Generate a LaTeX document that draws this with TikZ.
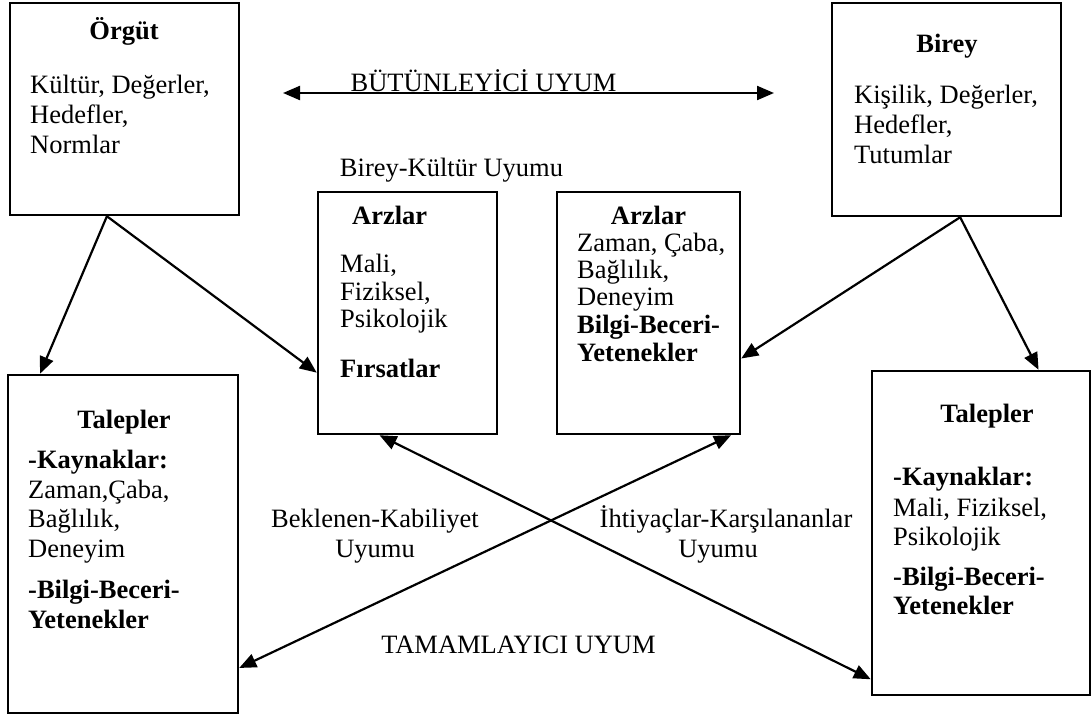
\documentclass[tikz,border=0pt]{standalone}
\usepackage{fontspec}
\setmainfont{Liberation Serif}
\usetikzlibrary{arrows.meta,calc}
\newcommand\myfs{\fontsize{26.5}{30}\selectfont}
\begin{document}
\begin{tikzpicture}[x=1pt,y=-1pt,
 box/.style={draw, line width=2.5pt, inner sep=0pt},
 txt/.style={font=\myfs, inner sep=0pt, anchor=base west},
 ctr/.style={font=\myfs, inner sep=0pt, anchor=base},
 hd/.style={font=\myfs\bfseries, inner sep=0pt, anchor=base},
 bl/.style={font=\myfs\bfseries, inner sep=0pt, anchor=base west},
 con/.style={line width=2.2pt, -{Triangle[length=17pt,width=14pt]}},
 dcon/.style={line width=2.2pt, {Triangle[length=17pt,width=14pt]}-{Triangle[length=17pt,width=14pt]}}]
\useasboundingbox (0,0) rectangle (1092,715);
\fill[white] (0,0) rectangle (1092,715);
% boxes
\node[box, minimum width=229pt, minimum height=212pt] (org) at (124.5,109) {};
\node[box, minimum width=229pt, minimum height=213pt] (bir) at (946.5,109.5) {};
\node[box, minimum width=179pt, minimum height=242pt] (lmid) at (407.5,313) {};
\node[box, minimum width=183pt, minimum height=242pt] (rmid) at (648.5,313) {};
\node[box, minimum width=230pt, minimum height=338pt] (ltal) at (123,544) {};
\node[box, minimum width=218pt, minimum height=324pt] (rtal) at (981,533) {};
% Orgut text
\node[hd] (o0) at (124,39) {Örgüt};
\node[txt] (o1) at (30,93) {Kültür, Değerler,};
\node[txt] (o2) at (30,123) {Hedefler,};
\node[txt] (o3) at (30,153) {Normlar};
% Birey text
\node[hd] (b0) at (947,52) {Birey};
\node[txt] (b1) at (854,103) {Kişilik, Değerler,};
\node[txt] (b2) at (854,133) {Hedefler,};
\node[txt] (b3) at (854,163) {Tutumlar};
% top labels
\node[ctr] (bku) at (451.5,176) {Birey-Kültür Uyumu};
\node[ctr] (but) at (483.5,91) {BÜTÜNLEYİCİ UYUM};
% left middle
\node[bl] (lm0) at (352,224) {Arzlar};
\node[txt] (lm1) at (340,272) {Mali,};
\node[txt] (lm2) at (340,300) {Fiziksel,};
\node[txt] (lm3) at (340,327) {Psikolojik};
\node[bl] (lm4) at (340,377) {Fırsatlar};
% right middle
\node[hd] (rm0) at (648.5,224) {Arzlar};
\node[txt] (rm1) at (577,251) {Zaman, Çaba,};
\node[txt] (rm2) at (577,278) {Bağlılık,};
\node[txt] (rm3) at (577,305) {Deneyim};
\node[bl] (rm4) at (577,333) {Bilgi-Beceri-};
\node[bl] (rm5) at (577,361) {Yetenekler};
% left Talepler
\node[hd] (lt0) at (124,428) {Talepler};
\node[bl] (lt1) at (28,468) {-Kaynaklar:};
\node[txt] (lt2) at (28,498) {Zaman,Çaba,};
\node[txt] (lt3) at (28,527) {Bağlılık,};
\node[txt] (lt4) at (28,557) {Deneyim};
\node[bl] (lt5) at (28,598) {-Bilgi-Beceri-};
\node[bl] (lt6) at (28,628) {Yetenekler};
% right Talepler
\node[hd] (rt0) at (987,422) {Talepler};
\node[bl] (rt1) at (893,485) {-Kaynaklar:};
\node[txt] (rt2) at (893,516) {Mali, Fiziksel,};
\node[txt] (rt3) at (893,545) {Psikolojik};
\node[bl] (rt4) at (893,585) {-Bilgi-Beceri-};
\node[bl] (rt5) at (893,614) {Yetenekler};
% lower labels
\node[ctr] (bk1) at (375,527) {Beklenen-Kabiliyet};
\node[ctr] (bk2) at (375,557) {Uyumu};
\node[ctr] (ik1) at (726,527) {İhtiyaçlar-Karşılananlar};
\node[ctr] (ik2) at (718,557) {Uyumu};
\node[ctr] (tam) at (518.5,653) {TAMAMLAYICI UYUM};
% connectors
\coordinate (bl) at (283,93);
\coordinate (br) at (774,93);
\draw[dcon] (bl) -- (br);
\draw[con] ($(org.south west)!0.424!(org.south east)$) -- ($(ltal.north west)!0.143!(ltal.north east)$);
\draw[con] ($(org.south west)!0.424!(org.south east)$) -- ($(lmid.north west)!0.744!(lmid.south west)$);
\draw[con] ($(bir.south west)!0.559!(bir.south east)$) -- ($(rmid.north east)!0.686!(rmid.south east)$);
\draw[con] ($(bir.south west)!0.559!(bir.south east)$) -- ($(rtal.north west)!0.761!(rtal.north east)$);
\draw[dcon] ($(lmid.south west)!0.346!(lmid.south east)$) -- ($(rtal.north west)!0.948!(rtal.south west)$);
\draw[dcon] ($(ltal.north east)!0.864!(ltal.south east)$) -- ($(rmid.south west)!0.945!(rmid.south east)$);
\end{tikzpicture}
\end{document}
